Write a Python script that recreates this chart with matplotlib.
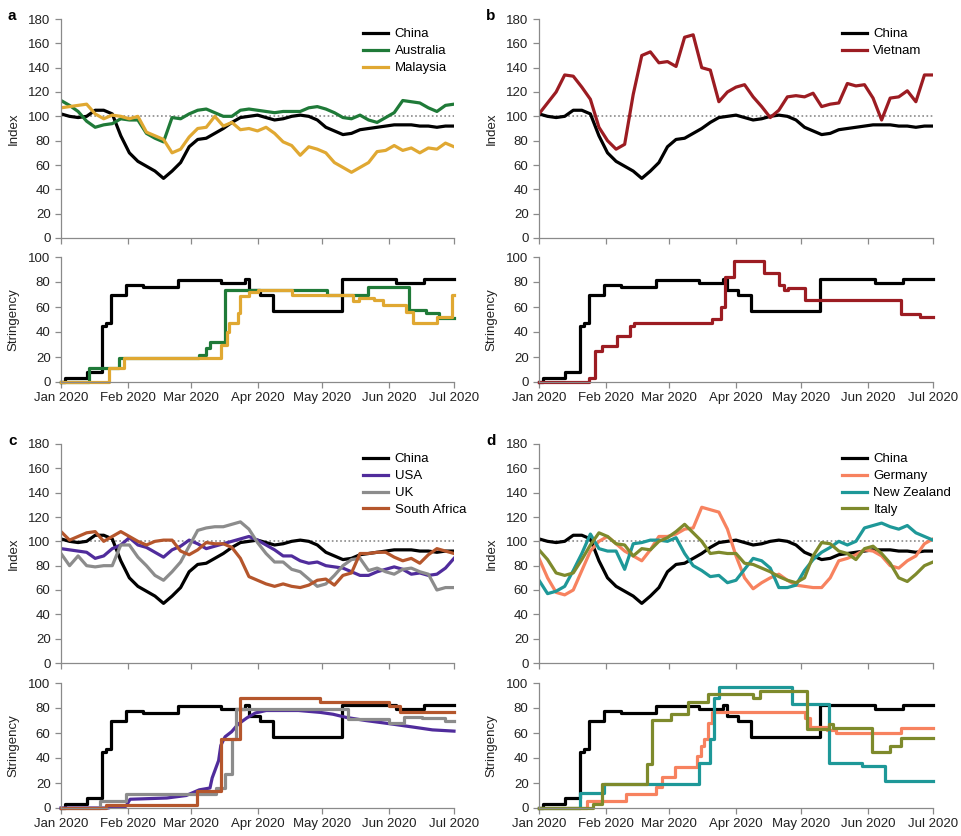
import pandas as pd
import matplotlib
matplotlib.use("Agg")
import matplotlib.pyplot as plt
import matplotlib.dates as mdates

plt.rcParams['font.family'] = ['Liberation Sans', 'DejaVu Sans']

START, END = pd.Timestamp('2020-01-01'), pd.Timestamp('2020-07-01')

# mobility index, sampled on an even grid of 47 dates from 1 Jan to 1 Jul
grid = pd.date_range(START, END, periods=47)

china_idx = [102, 100, 99, 100, 105, 105, 102, 84, 70, 63, 59, 55, 49, 55, 62, 75, 81, 82, 86, 90,
             95, 99, 100, 101, 99, 97, 98, 100, 101, 100, 97, 91, 88, 85, 86, 89, 90, 91, 92, 93,
             93, 93, 92, 92, 91, 92, 92]
australia_idx = [113, 109, 104, 96, 91, 93, 94, 98, 97, 97, 86, 82, 79, 99, 98, 102, 105, 106, 103, 100,
                 100, 105, 106, 105, 104, 103, 104, 104, 104, 107, 108, 106, 103, 99, 98, 101, 97, 95, 99, 103,
                 113, 112, 111, 107, 104, 109, 110]
malaysia_idx = [107, 108, 109, 110, 102, 98, 101, 100, 98, 100, 87, 84, 81, 70, 73, 83, 90, 91, 100, 92,
                95, 89, 90, 88, 91, 86, 79, 76, 68, 75, 73, 70, 62, 58, 54, 58, 62, 71, 72, 76,
                72, 74, 70, 74, 73, 78, 75]
vietnam_idx = [102, 111, 120, 134, 133, 124, 114, 91, 80, 73, 77, 118, 150, 153, 144, 145, 141, 165, 167, 140,
               138, 112, 120, 124, 126, 116, 108, 99, 105, 116, 117, 116, 119, 108, 110, 111, 127, 125, 126, 115,
               97, 115, 116, 121, 112, 134, 134]
usa_idx = [94, 93, 92, 91, 86, 88, 94, 97, 103, 97, 95, 91, 87, 93, 96, 101, 98, 94, 96, 98,
           100, 102, 104, 101, 97, 93, 88, 88, 84, 82, 83, 80, 79, 78, 75, 72, 72, 75, 77, 79,
           77, 73, 74, 72, 73, 78, 86]
uk_idx = [90, 80, 88, 80, 79, 80, 80, 97, 97, 87, 80, 72, 68, 75, 83, 96, 109, 111, 112, 112,
          114, 116, 110, 99, 90, 83, 83, 77, 75, 69, 63, 65, 72, 80, 85, 86, 76, 78, 75, 73,
          77, 78, 75, 73, 60, 62, 62]
south_africa_idx = [108, 101, 104, 107, 108, 100, 104, 108, 104, 100, 97, 100, 101, 101, 92, 89, 93, 99, 98, 98,
                    95, 86, 71, 68, 65, 63, 65, 63, 62, 64, 68, 69, 64, 72, 74, 90, 90, 91, 91, 87,
                    84, 86, 82, 89, 94, 92, 90]
germany_idx = [86, 70, 58, 56, 60, 76, 92, 100, 104, 98, 92, 88, 84, 93, 104, 104, 106, 110, 111, 128,
               126, 124, 110, 88, 70, 61, 66, 70, 73, 68, 64, 63, 62, 62, 70, 84, 86, 89, 93, 92,
               88, 80, 78, 84, 88, 98, 102]
new_zealand_idx = [68, 57, 59, 63, 76, 90, 106, 94, 92, 92, 77, 98, 99, 101, 101, 100, 103, 90, 80, 76,
                   71, 72, 66, 68, 77, 86, 84, 78, 62, 62, 64, 76, 85, 91, 95, 100, 97, 100, 111, 113,
                   115, 112, 110, 113, 107, 104, 101]
italy_idx = [93, 85, 74, 72, 74, 85, 97, 107, 104, 98, 97, 88, 94, 93, 100, 103, 108, 114, 107, 100,
             90, 91, 90, 90, 82, 81, 78, 75, 71, 68, 66, 70, 88, 99, 98, 92, 90, 85, 94, 96,
             90, 82, 70, 67, 73, 80, 83]

# stringency index: level from each date until the next change
china_sd = ['2020-01-01', '2020-01-03', '2020-01-13', '2020-01-20', '2020-01-22', '2020-01-24',
            '2020-01-31', '2020-02-08', '2020-02-24', '2020-03-15', '2020-03-26', '2020-03-28',
            '2020-04-02', '2020-04-08', '2020-05-10', '2020-06-04', '2020-06-17']
china_sv = [0, 3, 8, 45, 47, 70, 77.8, 76, 81.5, 79.6, 82.5, 74, 70, 57, 82.4, 79, 82.4]
australia_sd = ['2020-01-01', '2020-01-14', '2020-01-28', '2020-03-05', '2020-03-08', '2020-03-10',
                '2020-03-17', '2020-05-03', '2020-05-22', '2020-06-10', '2020-06-18', '2020-06-24']
australia_sv = [0, 11, 19.6, 22, 27, 32, 74, 70, 76, 58, 55, 51]
malaysia_sd = ['2020-01-01', '2020-01-23', '2020-01-30', '2020-03-15', '2020-03-18', '2020-03-19',
               '2020-03-23', '2020-03-24', '2020-03-28', '2020-04-01', '2020-04-17', '2020-05-15',
               '2020-05-18', '2020-05-25', '2020-05-29', '2020-06-09', '2020-06-12', '2020-06-23',
               '2020-06-30']
malaysia_sv = [0, 11, 19.6, 30, 40, 47, 55, 69, 72, 74, 70, 64.5, 67, 65.5, 62, 56, 47, 52, 70]
vietnam_sd = ['2020-01-01', '2020-01-24', '2020-01-27', '2020-01-30', '2020-02-06', '2020-02-12',
              '2020-02-14', '2020-03-21', '2020-03-25', '2020-03-27', '2020-03-31', '2020-04-14',
              '2020-04-21', '2020-04-23', '2020-04-25', '2020-05-03', '2020-06-16', '2020-06-25']
vietnam_sv = [0, 3, 25, 28.6, 37, 45, 47.3, 50.5, 60, 84, 97, 87, 78, 73.6, 75.5, 66, 54.7, 52]
uk_sd = ['2020-01-01', '2020-01-19', '2020-01-31', '2020-03-13', '2020-03-17', '2020-03-20',
         '2020-03-22', '2020-05-13', '2020-06-01', '2020-06-08', '2020-06-16', '2020-06-27']
uk_sv = [0, 5.3, 11, 16, 27, 55, 79.6, 71, 68, 73, 72, 70]
south_africa_sd = ['2020-01-01', '2020-01-22', '2020-03-04', '2020-03-15', '2020-03-24', '2020-04-30',
                   '2020-06-01', '2020-06-06']
south_africa_sv = [0, 2.7, 13.3, 55, 88, 84.5, 82, 77]
germany_sd = ['2020-01-01', '2020-01-23', '2020-02-10', '2020-02-24', '2020-02-27', '2020-03-04',
              '2020-03-14', '2020-03-16', '2020-03-17', '2020-03-19', '2020-03-21', '2020-05-03',
              '2020-05-05', '2020-05-13', '2020-05-17', '2020-06-16']
germany_sv = [0, 5.6, 11, 16.5, 25, 33, 42, 50, 55, 68, 77, 72, 65, 62.5, 60, 64]
new_zealand_sd = ['2020-01-01', '2020-01-20', '2020-01-31', '2020-03-15', '2020-03-20', '2020-03-22',
                  '2020-03-24', '2020-04-27', '2020-05-14', '2020-05-29', '2020-06-09']
new_zealand_sv = [0, 12, 19.5, 36, 55, 88, 97, 83.5, 36, 33.5, 22]
italy_sd = ['2020-01-01', '2020-01-26', '2020-01-30', '2020-02-20', '2020-02-22', '2020-03-02',
            '2020-03-10', '2020-03-19', '2020-04-09', '2020-04-12', '2020-05-04', '2020-05-14',
            '2020-05-16', '2020-06-03', '2020-06-11', '2020-06-16']
italy_sv = [0, 3, 19.5, 35, 70.5, 75, 85, 91, 88, 94, 63, 67, 64, 44.5, 50, 56]

# USA stringency is an average over states, so it changes smoothly
usa_sd = ['2020-01-01', '2020-01-23', '2020-01-25', '2020-01-31', '2020-02-02', '2020-02-19',
          '2020-02-28', '2020-03-05', '2020-03-10', '2020-03-11', '2020-03-14', '2020-03-15',
          '2020-03-17', '2020-03-20', '2020-03-23', '2020-03-27', '2020-03-31', '2020-04-05',
          '2020-04-20', '2020-04-30', '2020-05-06', '2020-05-12', '2020-05-21', '2020-06-03',
          '2020-06-15', '2020-06-21', '2020-07-01']
usa_sv = [0, 0, 1.3, 1.3, 7, 8, 10, 14.5, 16, 24, 38, 50, 57, 61, 67, 72, 76, 78,
          78, 76.5, 75, 72.5, 70, 67, 64, 62.5, 61.5]

panels = [
    ('a', [('China', 'black', china_idx, china_sd, china_sv),
           ('Australia', '#1f7a38', australia_idx, australia_sd, australia_sv),
           ('Malaysia', '#e0a832', malaysia_idx, malaysia_sd, malaysia_sv)]),
    ('b', [('China', 'black', china_idx, china_sd, china_sv),
           ('Vietnam', '#9c1c22', vietnam_idx, vietnam_sd, vietnam_sv)]),
    ('c', [('China', 'black', china_idx, china_sd, china_sv),
           ('USA', '#502c9c', usa_idx, usa_sd, usa_sv),
           ('UK', '#8c8c8c', uk_idx, uk_sd, uk_sv),
           ('South Africa', '#b5562c', south_africa_idx, south_africa_sd, south_africa_sv)]),
    ('d', [('China', 'black', china_idx, china_sd, china_sv),
           ('Germany', '#f7825f', germany_idx, germany_sd, germany_sv),
           ('New Zealand', '#1e9898', new_zealand_idx, new_zealand_sd, new_zealand_sv),
           ('Italy', '#7e8a2c', italy_idx, italy_sd, italy_sv)]),
]

W, H = 961, 836
fig = plt.figure(figsize=(W / 100, H / 100), dpi=100)


def rect(left, right, top, bottom):
    return [left / W, 1 - bottom / H, (right - left) / W, (bottom - top) / H]


def style(ax, ymax, step, ylabel, show_dates):
    ax.spines[['top', 'right']].set_visible(False)
    for s in ('left', 'bottom'):
        ax.spines[s].set_color('#8a8a8a')
        ax.spines[s].set_linewidth(0.9)
    ax.set_xlim(START, END)
    ax.set_ylim(0, ymax)
    ax.set_yticks(range(0, ymax + 1, step))
    ax.xaxis.set_major_locator(mdates.MonthLocator())
    ax.xaxis.set_major_formatter(mdates.DateFormatter('%b %Y'))
    ax.tick_params(color='#8a8a8a', labelcolor='#222222', labelsize=9.5, length=4, width=0.9)
    if not show_dates:
        ax.tick_params(axis='x', labelbottom=False)
    ax.set_ylabel(ylabel, fontsize=9.5, color='#222222')
    ax.yaxis.set_label_coords(-0.105, 0.5)


cols = [(61, 454), (539, 933)]
rows = [(19, 238, 257, 382), (444, 663, 683, 808)]

for k, (letter, series) in enumerate(panels):
    left, right = cols[k % 2]
    t1, b1, t2, b2 = rows[k // 2]
    ax1 = fig.add_axes(rect(left, right, t1, b1))
    ax2 = fig.add_axes(rect(left, right, t2, b2))

    ax1.axhline(100, color='#8a8a8a', lw=1.2, ls=(0, (1, 1.5)), zorder=1)
    for name, color, idx, sd, sv in series:
        ax1.plot(grid, idx, color=color, lw=2.3, label=name, zorder=2)
        d = pd.to_datetime(sd + ['2020-07-01'])
        v = sv + [sv[-1]]
        if name == 'USA':
            ax2.plot(pd.to_datetime(sd), sv, color=color, lw=2.3, clip_on=False)
        else:
            ax2.plot(d, v, color=color, lw=2.3, drawstyle='steps-post', clip_on=False)

    style(ax1, 180, 20, 'Index', False)
    style(ax2, 100, 20, 'Stringency', True)

    ax1.legend(loc='upper left', bbox_to_anchor=(0.745, 1.0), frameon=False, fontsize=9.5,
               handlelength=1.9, handletextpad=0.5, labelspacing=0.35, borderaxespad=0.3)
    fig.text((left - 53) / W, 1 - (t1 - 10) / H, letter, fontsize=11, fontweight='bold',
             va='top', ha='left')

fig.savefig('out.png', dpi=100)
